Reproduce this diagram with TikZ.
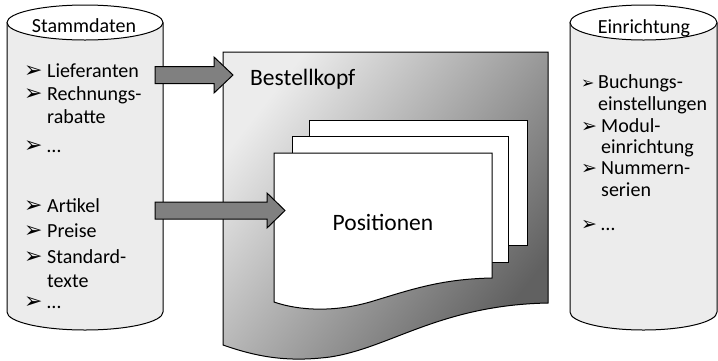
\documentclass[tikz,border=0pt]{standalone}
\usepackage{fontspec}
\setmainfont{Carlito}
\newfontfamily\dejavu{DejaVu Sans}
\usetikzlibrary{positioning}
\newcommand{\bul}{{\dejavu ➢}}

\tikzset{
  outline/.style={draw=black, line width=1pt},
  drum/.style={outline, fill=gray!15},
  lid/.style={outline, fill=white},
  sheet/.style={outline, fill=white},
  blockarrow/.style={outline, fill=gray},
  item/.style={anchor=base west, inner sep=0pt, font=\fontsize{20}{24}\selectfont},
  bullet/.style={anchor=base west, inner sep=0pt, font=\fontsize{22}{22}\selectfont},
  smallbullet/.style={bullet, font=\fontsize{19}{19}\selectfont},
  title/.style={anchor=base, inner sep=0pt, font=\fontsize{20}{24}\selectfont},
  big/.style={inner sep=0pt, font=\fontsize{23.5}{28}\selectfont},
}

\begin{document}
\begin{tikzpicture}[x=1pt, y=-1pt]
\useasboundingbox (0,0) rectangle (718,360);

% Stammdaten
\draw[drum] (7,22.5) -- (7,312) arc[start angle=180, end angle=0, x radius=78, y radius=18] -- (163,22.5);
\draw[lid] (85,22.5) ellipse[x radius=78, y radius=17.5];
\node[title] (stamm) at (84,32) {Stammdaten};

\node[bullet] (b1) at (24,77) {\bul};
\node[item] (lief) at (47,77) {Lieferanten};
\node[bullet] (b2) at (24,100) {\bul};
\node[item] (rech) at (47,100) {Rechnungs-};
\node[item] (rab) at (47,123) {rabatte};
\node[bullet] (b3) at (24,152) {\bul};
\node[item] (dots1) at (47,152) {…};

\node[bullet] (b4) at (24,212) {\bul};
\node[item] (art) at (47,212) {Artikel};
\node[bullet] (b5) at (24,237) {\bul};
\node[item] (preis) at (47,237) {Preise};
\node[bullet] (b6) at (24,263) {\bul};
\node[item] (std) at (47,263) {Standard-};
\node[item] (txt) at (47,287) {texte};
\node[bullet] (b7) at (24,308) {\bul};
\node[item] (dots2) at (47,308) {…};

% Einrichtung
\draw[drum] (570,22.5) -- (570,312) arc[start angle=180, end angle=0, x radius=73.5, y radius=18] -- (717,22.5);
\draw[lid] (643.5,22.5) ellipse[x radius=73.5, y radius=17.5];
\node[title] (einr) at (644,33) {Einrichtung};

\node[smallbullet, font=\fontsize{16}{16}\selectfont] (c1) at (581,88) {\bul};
\node[item] (buch) at (598,88) {Buchungs-};
\node[item] (einst) at (598,110) {einstellungen};
\node[smallbullet] (c2) at (581,132) {\bul};
\node[item] (mod) at (601,132) {Modul-};
\node[item] (modein) at (601,153) {einrichtung};
\node[smallbullet] (c3) at (581,174) {\bul};
\node[item] (num) at (601,174) {Nummern-};
\node[item] (ser) at (601,196) {serien};
\node[smallbullet] (c4) at (581,230) {\bul};
\node[item] (dots3) at (601,230) {…};

% Bestellkopf
\draw[outline, top color=gray!15, bottom color=black!62, shading angle=52]
  (223,52) -- (548,52) -- (548,303)
  .. controls (440,305) and (390,348) .. (330,357)
  .. controls (290,362) and (260,358) .. (223,345) -- cycle;
\node[big, anchor=base west] (kopf) at (250,85) {Bestellkopf};

% Positionen
\draw[sheet] (309,120) rectangle (527,245);
\draw[sheet] (292,136) rectangle (508,262);
\draw[sheet] (274,153) -- (492,153) -- (492,278)
  .. controls (440,279) and (410,290) .. (370,302)
  .. controls (335,312) and (300,311) .. (274,302) -- cycle;
\node[big, anchor=base] (pos) at (383,230) {Positionen};

% Pfeile
\draw[blockarrow] (155,66.5) -- (214,66.5) -- (214,57) -- (233,75) -- (214,93) -- (214,83.5) -- (155,83.5) -- cycle;
\draw[blockarrow] (155,202) -- (267,202) -- (267,193) -- (285,210.5) -- (267,228) -- (267,219) -- (155,219) -- cycle;

\end{tikzpicture}
\end{document}
